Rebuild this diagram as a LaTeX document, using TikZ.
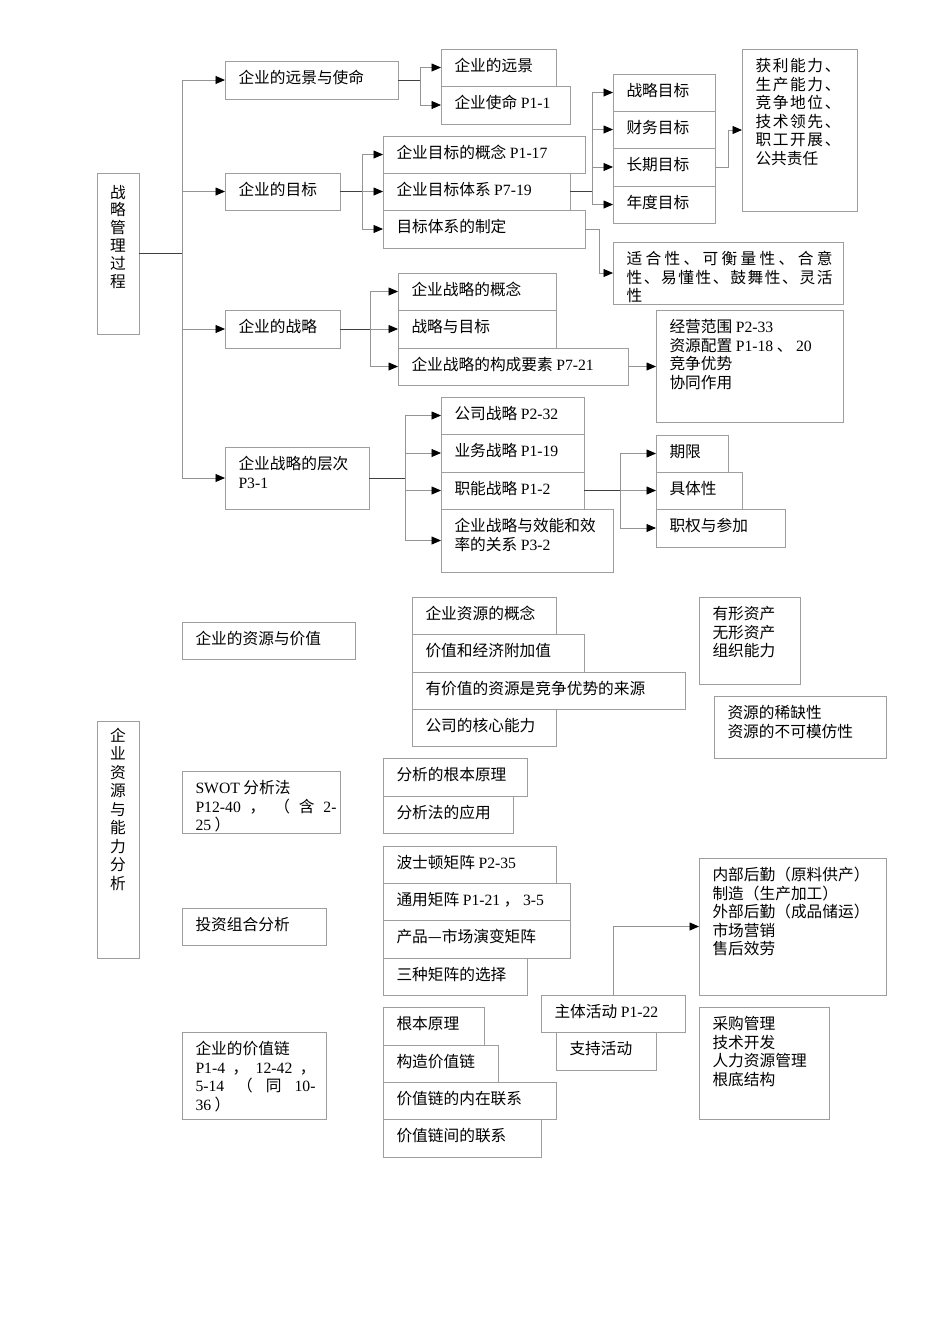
\documentclass[tikz,border=0pt]{standalone}
\usepackage{fontspec}
\setmainfont{Noto Sans CJK SC}
\newfontfamily\latinfont{Liberation Serif}
\usetikzlibrary{arrows.meta}
\newcommand\latx[1]{{\latinfont #1}}
\newcommand\mlines[1]{\vtop{\baselineskip=18.6pt\lineskiplimit=-100pt\lineskip=0pt\halign{##\hfil\cr#1\crcr}}}
\newcommand\vstk[2]{\vtop{\baselineskip=#1\lineskiplimit=-100pt\lineskip=0pt\halign{\hfil##\hfil\cr#2\crcr}}}
\newcommand\bxx[6]{%
  \node[bxs, minimum width={(#4-#2)*1pt}, minimum height={(#5-#3)*1pt}] (#1) at (#2,#3) {};
  \node[tx] (#1t) at ([shift={(13.5,22.5)}]#1.north west) {#6};}
\tikzset{
  bxs/.style={draw=black!38, line width=0.8pt, rectangle, anchor=north west, inner sep=0pt, outer sep=0pt},
  tx/.style={anchor=base west, inner sep=0pt, outer sep=0pt, font=\fontsize{15.7}{18.6}\selectfont, text=black},
  dk/.style={draw=black!75, line width=0.8pt},
  br/.style={draw=black!42, line width=0.8pt, -{Triangle[length=9.5pt,width=8pt,color=black]}}
}
\begin{document}
\begin{tikzpicture}[x=1pt,y=-1pt]
\fill[white] (0,0) rectangle (950,1344);
\useasboundingbox (0,0) rectangle (950,1344);

% ---------- upper part ----------
\node[bxs, minimum width=42pt, minimum height=161pt] (Z1) at (97,173) {};
\node[tx, anchor=base] (Z1t) at (118,198) {\vstk{17.8pt}{战\cr 略\cr 管\cr 理\cr 过\cr 程}};

\bxx{A1}{225}{61}{398}{99}{企业的远景与使命}
\bxx{A2}{225}{173}{340}{210}{企业的目标}
\bxx{A3}{225}{310}{340}{348}{企业的战略}
\bxx{A4}{225}{447}{369}{509}{\mlines{企业战略的层次\cr \latx{P3-1}}}

\bxx{B1}{441}{49}{556}{86}{企业的远景}
\bxx{B2}{441}{86}{570}{124}{企业使命 \latx{P1-1}}

\bxx{C1}{383}{136}{585}{173}{企业目标的概念 \latx{P1-17}}
\bxx{C2}{383}{173}{570}{210}{企业目标体系 \latx{P7-19}}
\bxx{C3}{383}{210}{585}{248}{目标体系的制定}

\bxx{D1}{613}{74}{715}{111}{战略目标}
\bxx{D2}{613}{111}{715}{148}{财务目标}
\bxx{D3}{613}{148}{715}{186}{长期目标}
\bxx{D4}{613}{186}{715}{223}{年度目标}

\bxx{E1}{742}{49}{857}{211}{\mlines{%
\hbox to 85pt{获\hfill 利\hfill 能\hfill 力\hfill 、}\cr
\hbox to 85pt{生\hfill 产\hfill 能\hfill 力\hfill 、}\cr
\hbox to 85pt{竞\hfill 争\hfill 地\hfill 位\hfill 、}\cr
\hbox to 85pt{技\hfill 术\hfill 领\hfill 先\hfill 、}\cr
\hbox to 85pt{职\hfill 工\hfill 开\hfill 展\hfill 、}\cr
公共责任}}
\bxx{E2}{613}{242}{843}{304}{\mlines{%
\hbox to 206pt{适\hfill 合\hfill 性\hfill 、\hfill 可\hfill 衡\hfill 量\hfill 性\hfill 、\hfill 合\hfill 意}\cr
\hbox to 206pt{性\hfill 、\hfill 易\hfill 懂\hfill 性\hfill 、\hfill 鼓\hfill 舞\hfill 性\hfill 、\hfill 灵\hfill 活}\cr
性}}

\bxx{F1}{398}{273}{556}{310}{企业战略的概念}
\bxx{F2}{398}{310}{556}{348}{战略与目标}
\bxx{F3}{398}{348}{628}{385}{企业战略的构成要素 \latx{P7-21}}

\bxx{G1}{656}{310}{843}{422}{\mlines{经营范围 \latx{P2-33}\cr 资源配置 \latx{P1-18} 、 \latx{20}\cr 竞争优势\cr 协同作用}}

\bxx{H1}{441}{397}{584}{434}{公司战略 \latx{P2-32}}
\bxx{H2}{441}{434}{584}{472}{业务战略 \latx{P1-19}}
\bxx{H3}{441}{472}{584}{509}{职能战略 \latx{P1-2}}
\bxx{H4}{441}{509}{613}{572}{\mlines{企业战略与效能和效\cr 率的关系 \latx{P3-2}}}

\bxx{I1}{656}{435}{728}{472}{期限}
\bxx{I2}{656}{472}{742}{509}{具体性}
\bxx{I3}{656}{509}{785}{547}{职权与参加}

% connectors upper part
\coordinate (tr) at (182,253.5);
\draw[dk] (Z1.east) -- (tr);
\foreach \t in {A1,A2,A3,A4} \draw[br] (tr) |- (\t.west);

\coordinate (a1) at ([xshift=22pt]A1.east);
\draw[dk] (A1.east) -- (a1);
\foreach \t in {B1,B2} \draw[br] (a1) |- (\t.west);

\coordinate (a2) at ([xshift=22pt]A2.east);
\draw[dk] (A2.east) -- (a2);
\foreach \t in {C1,C2,C3} \draw[br] (a2) |- (\t.west);

\coordinate (c2) at ([xshift=22pt]C2.east);
\draw[dk] (C2.east) -- (c2);
\foreach \t in {D1,D2,D3,D4} \draw[br] (c2) |- (\t.west);

\coordinate (c3) at ([xshift=14pt]C3.east);
\draw[br] (C3.east) -- (c3) |- (E2.west);

\coordinate (d3) at ([xshift=13pt]D3.east);
\draw[br] (D3.east) -- (d3) |- (E1.west);

\coordinate (a3) at ([xshift=30pt]A3.east);
\draw[dk] (A3.east) -- (a3);
\foreach \t in {F1,F2,F3} \draw[br] (a3) |- (\t.west);

\draw[br] (F3.east) -- (F3.east -| G1.west);

\coordinate (a4) at ([xshift=36pt]A4.east);
\draw[dk] (A4.east) -- (a4);
\foreach \t in {H1,H2,H3,H4} \draw[br] (a4) |- (\t.west);

\coordinate (h3) at ([xshift=36pt]H3.east);
\draw[dk] (H3.east) -- (h3);
\foreach \t in {I1,I2,I3} \draw[br] (h3) |- (\t.west);

% ---------- lower part ----------
\node[bxs, minimum width=42pt, minimum height=237pt] (Z2) at (97,721) {};
\node[tx, anchor=base] (Z2t) at (118,741) {\vstk{18.5pt}{企\cr 业\cr 资\cr 源\cr 与\cr 能\cr 力\cr 分\cr 析}};

\bxx{J1}{182}{622}{355}{659}{企业的资源与价值}
\bxx{J2}{182}{771}{340}{833}{\mlines{\latx{SWOT} 分析法\cr
\hbox to 141pt{\latx{P12-40}\hfill ，\hfill （\hfill 含\hfill \latx{2-}}\cr
\latx{25} ）}}
\bxx{J3}{182}{908}{326}{945}{投资组合分析}
\bxx{J4}{182}{1032}{326}{1119}{\mlines{企业的价值链\cr
\hbox to 120pt{\latx{P1-4}\hfill ，\hfill \latx{12-42}\hfill ，}\cr
\hbox to 120pt{\latx{5-14}\hfill （\hfill 同\hfill \latx{10-}}\cr
\latx{36} ）}}

\bxx{K1}{412}{597}{556}{634}{企业资源的概念}
\bxx{K2}{412}{634}{584}{672}{价值和经济附加值}
\bxx{K3}{412}{672}{685}{709}{有价值的资源是竞争优势的来源}
\bxx{K4}{412}{709}{556}{746}{公司的核心能力}

\bxx{L1}{699}{597}{800}{684}{\mlines{有形资产\cr 无形资产\cr 组织能力}}
\bxx{L2}{714}{696}{886}{758}{\mlines{资源的稀缺性\cr 资源的不可模仿性}}

\bxx{M1}{383}{758}{527}{796}{分析的根本原理}
\bxx{M2}{383}{796}{513}{833}{分析法的应用}

\bxx{N1}{383}{846}{556}{883}{波士顿矩阵 \latx{P2-35}}
\bxx{N2}{383}{883}{570}{920}{通用矩阵 \latx{P1-21} ， \latx{3-5}}
\bxx{N3}{383}{920}{570}{958}{产品—市场演变矩阵}
\bxx{N4}{383}{958}{527}{995}{三种矩阵的选择}

\bxx{O1}{383}{1007}{484}{1045}{根本原理}
\bxx{O2}{383}{1045}{498}{1082}{构造价值链}
\bxx{O3}{383}{1082}{556}{1119}{价值链的内在联系}
\bxx{O4}{383}{1119}{541}{1157}{价值链间的联系}

\bxx{P1}{541}{995}{685}{1032}{主体活动 \latx{P1-22}}
\bxx{P2}{556}{1032}{656}{1070}{支持活动}

\bxx{Q1}{699}{858}{886}{995}{\mlines{内部后勤（原料供产）\cr 制造（生产加工）\cr 外部后勤（成品储运）\cr 市场营销\cr 售后效劳}}
\bxx{Q2}{699}{1007}{829}{1119}{\mlines{采购管理\cr 技术开发\cr 人力资源管理\cr 根底结构}}

\draw[br] (P1.north) |- (Q1.west);
\end{tikzpicture}
\end{document}
